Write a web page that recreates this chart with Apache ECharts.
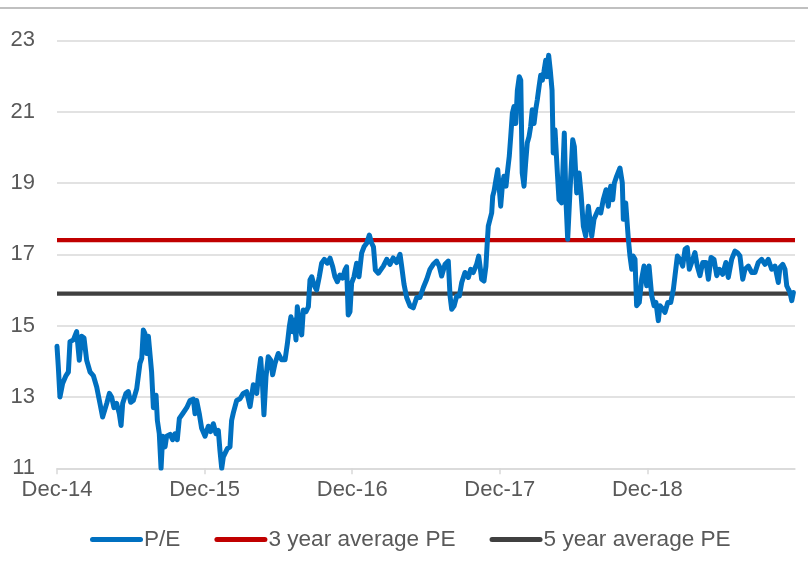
<!DOCTYPE html>
<html>
<head>
<meta charset="utf-8">
<script src="https://cdn.jsdelivr.net/npm/echarts@6/dist/echarts.min.js"></script>
<style>
  html, body { margin: 0; padding: 0; background: #ffffff; }
  #wrap { position: relative; width: 808px; height: 582px; }
  #topRule { position: absolute; left: 0; top: 7px; width: 808px; height: 2px; background: #c0c0c0; }
  #chart { position: absolute; left: 0; top: 0; width: 808px; height: 582px; }
</style>
</head>
<body>
<div id="wrap"><div id="chart"></div><div id="topRule"></div></div>
<script>
// Years elapsed since Dec-14 for each P/E observation
const yearsSinceDec14 = [
  0.000,0.009,0.020,0.038,0.061,0.077,0.088,0.111,0.133,0.151,0.167,0.183,0.201,0.224,0.246,0.269,0.291,0.309,0.337,0.355,
  0.370,0.386,0.404,0.422,0.434,0.445,0.467,0.483,0.499,0.517,0.540,0.551,0.562,0.574,0.585,0.596,0.608,0.619,0.630,0.641,
  0.653,0.671,0.680,0.693,0.705,0.716,0.732,0.743,0.766,0.784,0.799,0.815,0.829,0.851,0.879,0.901,0.924,0.935,0.946,0.964,
  0.980,1.003,1.025,1.041,1.059,1.077,1.093,1.104,1.116,1.127,1.140,1.154,1.172,1.183,1.195,1.217,
  1.240,1.262,1.285,1.308,1.330,1.353,1.364,1.380,1.393,1.402,1.416,1.431,1.447,1.461,1.477,1.499,1.522,1.545,1.561,1.574,
  1.585,1.597,1.608,1.619,1.628,1.642,1.658,1.669,1.687,1.703,1.714,1.726,1.741,1.759,1.777,1.793,1.811,1.831,1.850,1.868,
  1.883,1.899,1.917,1.935,1.951,1.962,1.973,1.985,1.996,2.012,2.030,2.046,2.064,2.080,2.098,2.116,2.132,2.144,2.157,2.177,
  2.211,2.234,2.256,2.278,2.301,2.324,2.335,2.351,2.369,2.392,2.414,2.437,2.459,2.482,2.505,2.527,2.549,2.572,2.590,2.606,
  2.629,2.651,2.663,2.674,2.690,2.708,2.726,2.742,2.764,2.787,2.803,2.820,2.843,2.857,2.866,2.877,2.893,2.906,2.915,
  2.922,2.945,2.952,2.961,2.974,2.986,3.006,3.017,3.028,3.042,3.051,3.064,3.074,3.085,3.096,3.108,3.119,3.132,3.142,3.152,
  3.164,3.175,3.186,3.198,3.209,3.220,3.232,3.243,3.254,3.266,3.277,3.288,3.299,3.311,3.318,3.331,3.342,3.354,3.362,3.374,
  3.390,3.401,3.419,3.437,3.448,3.460,3.476,3.494,3.505,3.521,3.537,3.550,3.566,3.582,3.600,3.623,3.638,3.667,3.684,3.701,
  3.720,3.735,3.751,3.765,3.776,3.792,3.814,3.830,3.837,3.853,3.871,3.882,3.894,3.904,3.916,3.927,3.945,3.961,3.977,3.995,
  4.011,4.029,4.045,4.058,4.074,4.085,4.104,4.119,4.138,4.158,4.176,4.187,4.203,4.221,4.239,4.255,4.270,4.284,4.300,4.322,
  4.338,4.356,4.375,4.397,4.413,4.431,4.451,4.470,4.487,4.510,4.532,4.548,4.571,4.593,4.609,4.627,4.646,4.661,4.684,4.707,
  4.729,4.751,4.774,4.797,4.819,4.842,4.864,4.887,4.898,4.917,4.932,4.944,4.955,4.966,4.978,4.989
];
const peValues = [
  14.42,13.84,13.00,13.38,13.60,13.70,14.55,14.60,14.83,14.03,14.70,14.65,14.03,13.70,13.60,13.28,12.82,12.44,12.82,13.10,
  13.00,12.70,12.82,12.53,12.20,12.82,13.10,13.15,12.85,12.90,13.23,13.20,13.94,14.08,14.88,14.78,14.22,14.70,14.73,13.70,
  12.70,13.05,12.34,11.97,11.00,11.90,11.60,11.90,11.95,11.80,11.97,11.80,12.40,12.53,12.70,12.90,12.94,12.53,12.90,12.53,
  12.12,11.90,12.18,12.03,12.25,11.97,12.06,11.50,11.00,11.32,11.28,11.55,11.60,12.34,12.56,12.90,
  12.95,13.10,13.15,12.73,13.34,13.10,13.57,14.08,13.29,12.50,13.57,14.13,14.04,13.62,13.94,14.22,14.04,14.04,14.50,14.97,
  15.25,14.83,15.16,14.60,15.53,15.07,14.74,15.44,15.39,15.53,16.28,16.37,16.14,16.00,16.37,16.75,16.86,16.75,16.89,16.65,
  16.37,16.23,16.42,16.33,16.56,16.65,15.30,15.39,16.19,16.37,16.75,16.37,17.03,17.21,17.31,17.54,17.31,17.21,16.56,16.47,
  16.67,16.86,16.72,16.90,16.77,17.00,16.67,16.16,15.79,15.55,15.50,15.79,15.79,16.07,16.30,16.58,16.72,16.81,16.67,16.39,
  16.72,16.81,15.83,15.46,15.55,15.83,15.83,16.21,16.49,16.35,16.58,16.49,16.72,16.95,16.67,16.30,16.25,16.67,17.33,
  17.79,18.16,18.63,18.77,19.09,19.37,18.35,18.91,19.19,18.91,19.28,19.74,20.30,20.95,21.14,20.67,21.60,21.98,21.88,19.28,
  18.91,19.56,20.12,20.30,20.58,21.05,20.67,21.05,21.33,21.70,22.02,21.88,22.12,22.44,21.98,22.58,22.16,21.60,19.84,20.49,
  19.28,18.53,18.44,20.40,18.53,17.42,18.81,20.21,20.02,18.72,19.28,18.72,17.79,17.51,18.35,17.51,17.98,18.26,18.16,18.53,
  18.81,18.35,18.91,18.53,19.00,19.19,19.42,19.00,17.98,18.44,17.42,16.95,16.58,16.95,16.86,15.56,15.65,16.30,16.67,16.12,
  16.67,15.84,15.56,15.65,15.14,15.56,15.47,15.37,15.65,15.65,16.02,16.40,16.95,16.86,16.67,17.14,17.19,16.58,16.77,17.05,
  16.67,16.40,16.77,16.77,16.30,16.91,16.86,16.40,16.58,16.44,16.77,16.35,16.86,17.09,17.05,16.95,16.30,16.58,16.67,16.49,
  16.49,16.77,16.86,16.72,16.86,16.58,16.67,16.21,16.63,16.72,16.58,16.12,16.02,15.93,15.70,15.93
];
const avg3Year = 17.4;
const avg5Year = 15.9;
const axisSpanYears = [0, 5];
const xTickValues = [0, 1, 2, 3, 4];
const xTickLabels = ['Dec-14', 'Dec-15', 'Dec-16', 'Dec-17', 'Dec-18'];
const yTicks = [11, 13, 15, 17, 19, 21, 23];
const seriesNames = ['P/E', '3 year average PE', '5 year average PE'];

const peData = yearsSinceDec14.map((t, i) => [t, peValues[i]]);
const avg3Data = axisSpanYears.map(t => [t, avg3Year]);
const avg5Data = axisSpanYears.map(t => [t, avg5Year]);

const FONT = 'Liberation Sans, Arial, sans-serif';
const TEXT = '#595959';
const capsule = 'path://M2.5,0 L50.5,0 A2.5,2.5 0 0 1 50.5,5 L2.5,5 A2.5,2.5 0 0 1 2.5,0 Z';

const chart = echarts.init(document.getElementById('chart'), null, { renderer: 'canvas' });
chart.setOption({
  animation: false,
  backgroundColor: '#ffffff',
  grid: { left: 57, right: 13, top: 40.3, bottom: 113.7, containLabel: false },
  legend: {
    bottom: 26,
    left: 85,
    itemWidth: 53,
    itemHeight: 5,
    itemGap: 34,
    textStyle: { color: TEXT, fontSize: 22.6, fontFamily: FONT, padding: [0, 0, 0, -4] },
    data: seriesNames.map(n => ({ name: n, icon: capsule }))
  },
  xAxis: {
    type: 'value',
    min: axisSpanYears[0],
    max: axisSpanYears[1],
    interval: 1,
    axisLine: { show: true, lineStyle: { color: '#d9d9d9', width: 1.5 } },
    axisTick: { show: true, length: 6, customValues: xTickValues, lineStyle: { color: '#d9d9d9', width: 1.5 } },
    axisLabel: {
      customValues: xTickValues,
      formatter: v => xTickLabels[xTickValues.indexOf(Math.round(v))] || '',
      color: TEXT, fontSize: 22, fontFamily: FONT, margin: 11
    },
    splitLine: { show: false }
  },
  yAxis: {
    type: 'value',
    min: yTicks[0],
    max: yTicks[yTicks.length - 1],
    interval: 2,
    axisLine: { show: false },
    axisTick: { show: false },
    axisLabel: { color: TEXT, fontSize: 22, fontFamily: FONT, margin: 22 },
    splitLine: { show: true, lineStyle: { color: '#d9d9d9', width: 1.5 } }
  },
  series: [
    {
      name: seriesNames[1], type: 'line', data: avg3Data, showSymbol: false, symbol: 'none',
      lineStyle: { color: '#C00000', width: 4.3 }, itemStyle: { color: '#C00000' }, z: 2
    },
    {
      name: seriesNames[2], type: 'line', data: avg5Data, showSymbol: false, symbol: 'none',
      lineStyle: { color: '#404040', width: 4.3 }, itemStyle: { color: '#404040' }, z: 2
    },
    {
      name: seriesNames[0], type: 'line', data: peData, showSymbol: false, symbol: 'none',
      lineStyle: { color: '#0070C0', width: 5, join: 'round', cap: 'round' }, itemStyle: { color: '#0070C0' }, z: 3
    }
  ]
});
</script>
</body>
</html>
